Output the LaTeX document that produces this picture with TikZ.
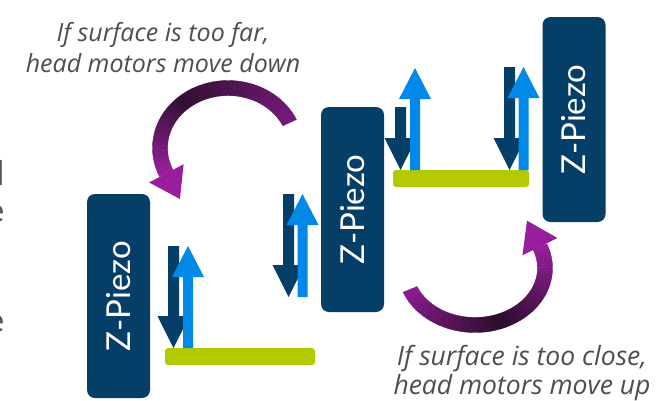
\documentclass[tikz,border=0pt]{standalone}
\usepackage{fontspec}
\setmainfont{Lato}
\newfontfamily\notefont{Open Sans}
\definecolor{znavy}{RGB}{5,62,103}
\definecolor{zblue}{RGB}{0,137,230}
\definecolor{zgreen}{RGB}{180,202,0}
\definecolor{txtgray}{RGB}{78,78,78}
\definecolor{fraggray}{RGB}{85,85,85}
\definecolor{tailc}{RGB}{0,0,0}
\definecolor{midc}{RGB}{0,0,0}
\definecolor{headc}{RGB}{0,0,0}

% down arrow: center x, top y, tip y
\newcommand\myDown[3]{%
  \fill[znavy] ({#1-5.5},#2) -- ({#1+5.5},#2) -- ({#1+5.5},{#3-32}) -- ({#1+16},{#3-32})
    -- (#1,#3) -- ({#1-16},{#3-32}) -- ({#1-5.5},{#3-32}) -- cycle;}
% up arrow: center x, tip y, bottom y
\newcommand\myUp[3]{%
  \fill[zblue] ({#1-5},#3) -- ({#1-5},{#2+31}) -- ({#1-16},{#2+31}) -- (#1,#2)
    -- ({#1+16},{#2+31}) -- ({#1+5},{#2+31}) -- ({#1+5},#3) -- cycle;}
% curved band arrow along ellipse: cx, cy, rx, ry, t0, tmid, t1
\newcommand\purplearc[7]{%
  \foreach \k in {0,...,29}{%
    \pgfmathsetmacro\ta{#5+(#6-#5)*\k/30}%
    \pgfmathsetmacro\tb{#5+(#6-#5)*(\k+1)/30}%
    \pgfmathtruncatemacro\mm{100*(\k+0.5)/30}%
    \filldraw[line width=0.4pt, fill=midc!\mm!tailc, draw=midc!\mm!tailc]
      ({#1+(#3+7.5)*cos(\ta)},{#2-(#4+7.5)*sin(\ta)}) -- ({#1+(#3+7.5)*cos(\tb)},{#2-(#4+7.5)*sin(\tb)})
      -- ({#1+(#3-7.5)*cos(\tb)},{#2-(#4-7.5)*sin(\tb)}) -- ({#1+(#3-7.5)*cos(\ta)},{#2-(#4-7.5)*sin(\ta)}) -- cycle;
  }%
  \foreach \k in {0,...,29}{%
    \pgfmathsetmacro\ta{#6+(#7-#6)*\k/30}%
    \pgfmathsetmacro\tb{#6+(#7-#6)*(\k+1)/30}%
    \pgfmathtruncatemacro\mm{100*(\k+0.5)/30}%
    \filldraw[line width=0.4pt, fill=headc!\mm!midc, draw=headc!\mm!midc]
      ({#1+(#3+7.5)*cos(\ta)},{#2-(#4+7.5)*sin(\ta)}) -- ({#1+(#3+7.5)*cos(\tb)},{#2-(#4+7.5)*sin(\tb)})
      -- ({#1+(#3-7.5)*cos(\tb)},{#2-(#4-7.5)*sin(\tb)}) -- ({#1+(#3-7.5)*cos(\ta)},{#2-(#4-7.5)*sin(\ta)}) -- cycle;
  }%
  \pgfmathsetmacro\pax{#1+#3*cos(#7)}%
  \pgfmathsetmacro\pay{#2-#4*sin(#7)}%
  \pgfmathsetmacro\dax{-#3*sin(#7)}%
  \pgfmathsetmacro\day{-#4*cos(#7)}%
  \pgfmathsetmacro\dal{sqrt(\dax*\dax+\day*\day)}%
  \pgfmathsetmacro\uax{\dax/\dal}%
  \pgfmathsetmacro\uay{\day/\dal}%
  \fill[headc] ({\pax+19.5*\uay},{\pay-19.5*\uax}) -- ({\pax+29*\uax},{\pay+29*\uay})
    -- ({\pax-19.5*\uay},{\pay+19.5*\uax}) -- cycle;
}

\begin{document}
\begin{tikzpicture}[x=1pt,y=-1pt,
  piezo/.style={fill=znavy, rounded corners=8pt, rotate=90, text=white,
    font=\fontsize{33}{33}\selectfont, inner sep=0pt, minimum height=63pt},
  bar/.style={fill=zgreen, rounded corners=3pt, inner sep=0pt, minimum height=17pt},
  note/.style={text=txtgray, font=\notefont\itshape\fontsize{25}{31}\selectfont, align=center, inner sep=0pt},
  frag/.style={text=fraggray, font=\fontsize{34}{34}\selectfont, inner sep=0pt, anchor=base east}]
\useasboundingbox (0,0) rectangle (668,400);

% fragments of cut text at the left edge
\node[frag] (f1) at (4.5,185) {l};
\node[frag] (f2) at (4.5,222) {e};
\node[frag] (f3) at (4.5,332) {e};

% Z-Piezo blocks
\node[piezo, minimum width=204pt] (pl) at (118.5,296) {Z-Piezo};
\node[piezo, minimum width=205pt] (pm) at (352.5,209.5) {Z-Piezo};
\node[piezo, minimum width=205pt] (pr) at (574,119.5) {Z-Piezo};

% surfaces
\node[bar, minimum width=150pt] (gl) at (240,356.5) {};
\node[bar, minimum width=136pt] (gm) at (461,178.5) {};

% straight arrows
\myDown{173.5}{246}{348}
\myUp{188}{246}{348}
\myDown{288.5}{194}{297}
\myUp{302.5}{194}{297}
\myDown{400.5}{107}{170}
\myUp{415}{68}{170}
\myDown{509.5}{67}{170}
\myUp{523.5}{67}{170}

% curved arrows
\definecolor{tailc}{RGB}{118,26,124}
\definecolor{midc}{RGB}{48,15,48}
\definecolor{headc}{RGB}{152,30,158}
\purplearc{228}{148}{68}{60}{25}{130}{205}
\definecolor{tailc}{RGB}{140,28,146}
\definecolor{midc}{RGB}{42,12,42}
\definecolor{headc}{RGB}{152,30,158}
\purplearc{475}{268}{70}{57}{202}{290}{382}

% captions
\node[note, anchor=base] (tfar) at (163,72) {If surface is too far,\\head motors move down};
\node[note, anchor=base, font=\notefont\itshape\fontsize{26.5}{29}\selectfont] (tclose) at (522,394) {If surface is too close,\\head motors move up};
\end{tikzpicture}
\end{document}
